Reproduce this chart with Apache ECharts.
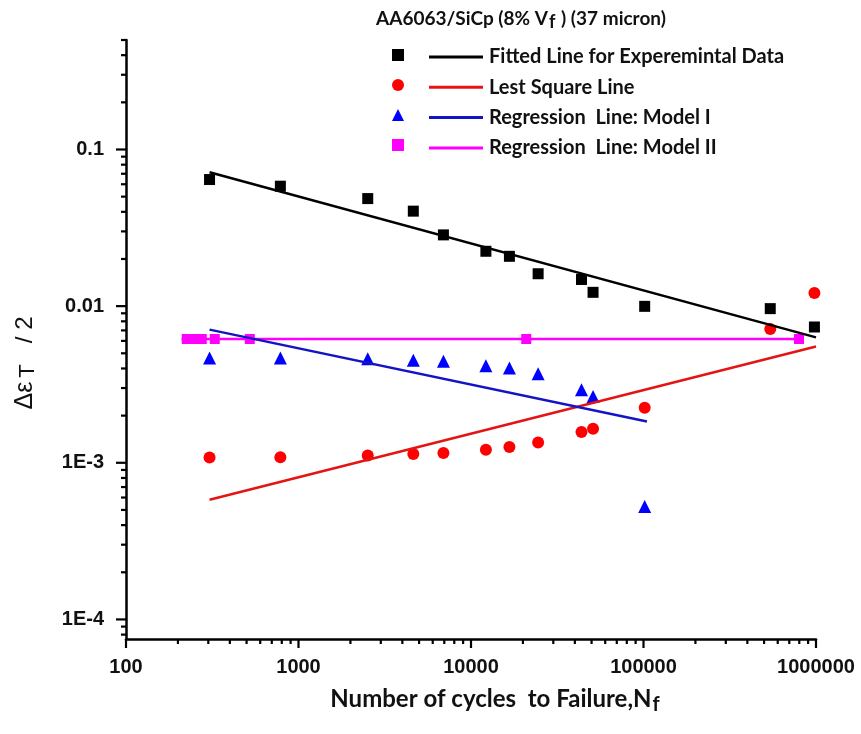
<!DOCTYPE html>
<html><head><meta charset="utf-8">
<script src="https://cdn.jsdelivr.net/npm/echarts@6/dist/echarts.min.js"></script>
<style>html,body{margin:0;padding:0;background:#fff}#c{width:861px;height:734px}</style>
</head><body><div id="c"></div>
<script>
// ---- data ----
const cyclesN = [305, 785, 2520, 4630, 6920, 12200, 16700, 24500, 43700, 51000, 101600, 543000, 979000];
const expStrain = [0.0643, 0.0583, 0.0486, 0.0404, 0.0285, 0.0224, 0.0208, 0.0161, 0.0148, 0.01225, 0.00997, 0.00964, 0.00736];
const lsqStrain = [0.00108, 0.001086, 0.001113, 0.001137, 0.001154, 0.001211, 0.001259, 0.001348, 0.001571, 0.001648, 0.002244, 0.00715, 0.01213];
const model1N = [305, 785, 2520, 4630, 6920, 12200, 16700, 24500, 43700, 51000, 101600];
const model1Strain = [0.00467, 0.00467, 0.00462, 0.00451, 0.00444, 0.00417, 0.00403, 0.00370, 0.00293, 0.00265, 0.000526];
const model2N = [225, 248, 275, 327, 522, 20900, 797000];
const model2Strain = [0.00617, 0.00617, 0.00617, 0.00617, 0.00617, 0.00617, 0.00617];
const fitLineN = [305, 1000000];
const fitLineStrain = [0.0716, 0.00632];
const lsqLineN = [305, 1000000];
const lsqLineStrain = [0.000581, 0.00553];
const m1LineN = [305, 104700];
const m1LineStrain = [0.00708, 0.001836];
const m2LineN = [210, 797000];
const m2LineStrain = [0.00617, 0.00617];
const seriesNames = ['Fitted Line for Experemintal Data', 'Lest Square Line', 'Regression  Line: Model I', 'Regression  Line: Model II'];
const xTickValues = [100, 1000, 10000, 100000, 1000000];
const xTickLabels = ['100', '1000', '10000', '100000', '1000000'];
const yTickValues = [1e-4, 1e-3, 1e-2, 1e-1];
const yTickLabels = ['1E-4', '1E-3', '0.01', '0.1'];
const xMin = 100, xMax = 1000000, yMin = 7.5e-5, yMax = 0.5;

// ---- helpers ----
const zip = (a, b) => a.map((v, i) => [v, b[i]]);
function labelFor(values, labels) {
  return function (v) {
    for (let i = 0; i < values.length; i++) {
      if (Math.abs(Math.log10(v) - Math.log10(values[i])) < 1e-6) return labels[i];
    }
    return '';
  };
}
// tick positions: majors from tick values, minors at 2..9 x decade within range
function buildTicks(majors, lo, hi) {
  const out = [];
  majors.forEach(m => out.push([m, 1]));
  const start = Math.floor(Math.log10(lo)), end = Math.ceil(Math.log10(hi));
  for (let e = start; e <= end; e++) {
    for (let k = 2; k <= 9; k++) {
      const v = k * Math.pow(10, e);
      if (v >= lo * 0.999 && v <= hi * 1.001) out.push([v, 0]);
    }
  }
  return out;
}
const xTicks = buildTicks(xTickValues, xMin, xMax);
const yTicks = buildTicks(yTickValues, yMin, yMax);

const font = 'Lato';
const chart = echarts.init(document.getElementById('c'), null, {renderer: 'canvas'});
const colors = {black: '#000000', red: '#ff0000', redLine: '#e51414', blue: '#0000ff', blueLine: '#1414c4', mag: '#ff00ff'};

chart.setOption({
  animation: false,
  backgroundColor: '#ffffff',
  title: {
    text: '{a|AA6063/SiCp (8% V}{s|f}{a| ) (37 micron)}',
    left: 371, top: 4,
    textStyle: {
      rich: {
        a: {fontFamily: font, fontWeight: 'bold', fontSize: 19, color: '#111', lineHeight: 22, verticalAlign: 'top'},
        s: {fontFamily: font, fontWeight: 'bold', fontSize: 18, color: '#111', lineHeight: 18, padding: [10, 1, 0, 1], verticalAlign: 'bottom'}
      }
    }
  },
  graphic: [{
    type: 'text', x: 26, y: 363, rotation: Math.PI / 2, silent: true,
    style: {
      text: '{a|Δε}{s|T}{b|/ 2}',
      align: 'center', verticalAlign: 'middle',
      rich: {
        a: {fontFamily: 'Liberation Sans', fontSize: 25, fill: '#111', lineHeight: 26, verticalAlign: 'top'},
        s: {fontFamily: 'Liberation Sans', fontSize: 22, fill: '#111', lineHeight: 22, padding: [12, 3, 0, 4], verticalAlign: 'bottom'},
        b: {fontFamily: 'Liberation Sans', fontSize: 24, fill: '#111', lineHeight: 26, verticalAlign: 'top', padding: [0, 0, 0, 18]}
      }
    }
  }],
  legend: [
    {
      data: ['sExp', 'sLsq', 'sM1', 'sM2'],
      orient: 'vertical', left: 392, top: 49, padding: 0,
      itemWidth: 12, itemHeight: 12, itemGap: 18,
      selectedMode: false,
      formatter: () => '',
      textStyle: {fontSize: 10, lineHeight: 12}
    },
    {
      data: seriesNames,
      orient: 'vertical', left: 429, top: 47, padding: 0,
      icon: 'rect',
      itemWidth: 54, itemHeight: 3, itemGap: 10.3,
      selectedMode: false,
      textStyle: {fontFamily: font, fontWeight: 'bold', fontSize: 20, color: '#111', lineHeight: 16, padding: [0, 0, 0, 1]}
    }
  ],
  grid: {left: 126, right: 45, top: 40, bottom: 95, containLabel: false, outerBoundsMode: 'none'},
  xAxis: {
    type: 'log', logBase: 10, min: xMin, max: xMax,
    name: '{a|Number of cycles  to Failure,N}{s|f}',
    nameLocation: 'middle', nameGap: 27,
    nameTextStyle: {
      padding: [0, 0, 0, 48],
      rich: {
        a: {fontFamily: font, fontWeight: 'bold', fontSize: 24, color: '#111', lineHeight: 28, verticalAlign: 'top'},
        s: {fontFamily: font, fontWeight: 'bold', fontSize: 20, color: '#111', lineHeight: 20, padding: [13, 0, 0, 1], verticalAlign: 'bottom'}
      }
    },
    axisLine: {lineStyle: {color: '#000', width: 2.5}},
    axisTick: {show: false},
    splitLine: {show: false},
    minorTick: {show: false},
    axisLabel: {
      margin: 18, fontFamily: 'Liberation Sans', fontWeight: 'bold', fontSize: 20, color: '#111',
      formatter: labelFor(xTickValues, xTickLabels)
    }
  },
  yAxis: {
    type: 'log', logBase: 10, min: yMin, max: yMax,
    axisLine: {lineStyle: {color: '#000', width: 2.5}},
    axisTick: {show: false},
    splitLine: {show: false},
    minorTick: {show: false},
    axisLabel: {
      margin: 22, fontFamily: 'Liberation Sans', fontWeight: 'bold', fontSize: 20, color: '#111',
      formatter: labelFor(yTickValues, yTickLabels)
    }
  },
  series: [
    // axis tick marks (drawn through the axis scales)
    {
      type: 'custom', name: 'xticks', silent: true, clip: false, z: 5,
      data: xTicks,
      renderItem: (params, api) => {
        const p = api.coord([api.value(0), yMin]);
        const len = api.value(1) ? 9 : 5;
        return {type: 'line', shape: {x1: p[0], y1: p[1], x2: p[0], y2: p[1] + len}, style: {stroke: '#000', lineWidth: 2.2}};
      }
    },
    {
      type: 'custom', name: 'yticks', silent: true, clip: false, z: 5,
      data: yTicks.map(t => [xMin, t[0], t[1]]),
      renderItem: (params, api) => {
        const p = api.coord([xMin, api.value(1)]);
        const len = api.value(2) ? 10 : 5;
        return {type: 'line', shape: {x1: p[0] - len, y1: p[1], x2: p[0], y2: p[1]}, style: {stroke: '#000', lineWidth: 2.2}};
      }
    },
    // data points
    {name: 'sExp', type: 'scatter', symbol: 'rect', symbolSize: 11, itemStyle: {color: colors.black, opacity: 1}, data: zip(cyclesN, expStrain)},
    {name: 'sLsq', type: 'scatter', symbol: 'circle', symbolSize: 12, itemStyle: {color: colors.red, opacity: 1}, data: zip(cyclesN, lsqStrain)},
    {name: 'sM1', type: 'scatter', symbol: 'triangle', symbolSize: 13, itemStyle: {color: colors.blue, opacity: 1}, data: zip(model1N, model1Strain)},
    {name: 'sM2', type: 'scatter', symbol: 'rect', symbolSize: 10, itemStyle: {color: colors.mag, opacity: 1}, data: zip(model2N, model2Strain)},
    // fitted lines
    {name: seriesNames[3], type: 'line', symbol: 'none', lineStyle: {color: colors.mag, width: 2.5}, itemStyle: {color: colors.mag}, data: zip(m2LineN, m2LineStrain)},
    {name: seriesNames[0], type: 'line', symbol: 'none', lineStyle: {color: colors.black, width: 2.5}, itemStyle: {color: colors.black}, data: zip(fitLineN, fitLineStrain)},
    {name: seriesNames[1], type: 'line', symbol: 'none', lineStyle: {color: colors.redLine, width: 2.5}, itemStyle: {color: colors.redLine}, data: zip(lsqLineN, lsqLineStrain)},
    {name: seriesNames[2], type: 'line', symbol: 'none', lineStyle: {color: colors.blueLine, width: 2.5}, itemStyle: {color: colors.blueLine}, data: zip(m1LineN, m1LineStrain)}
  ]
});
</script>
</body></html>
